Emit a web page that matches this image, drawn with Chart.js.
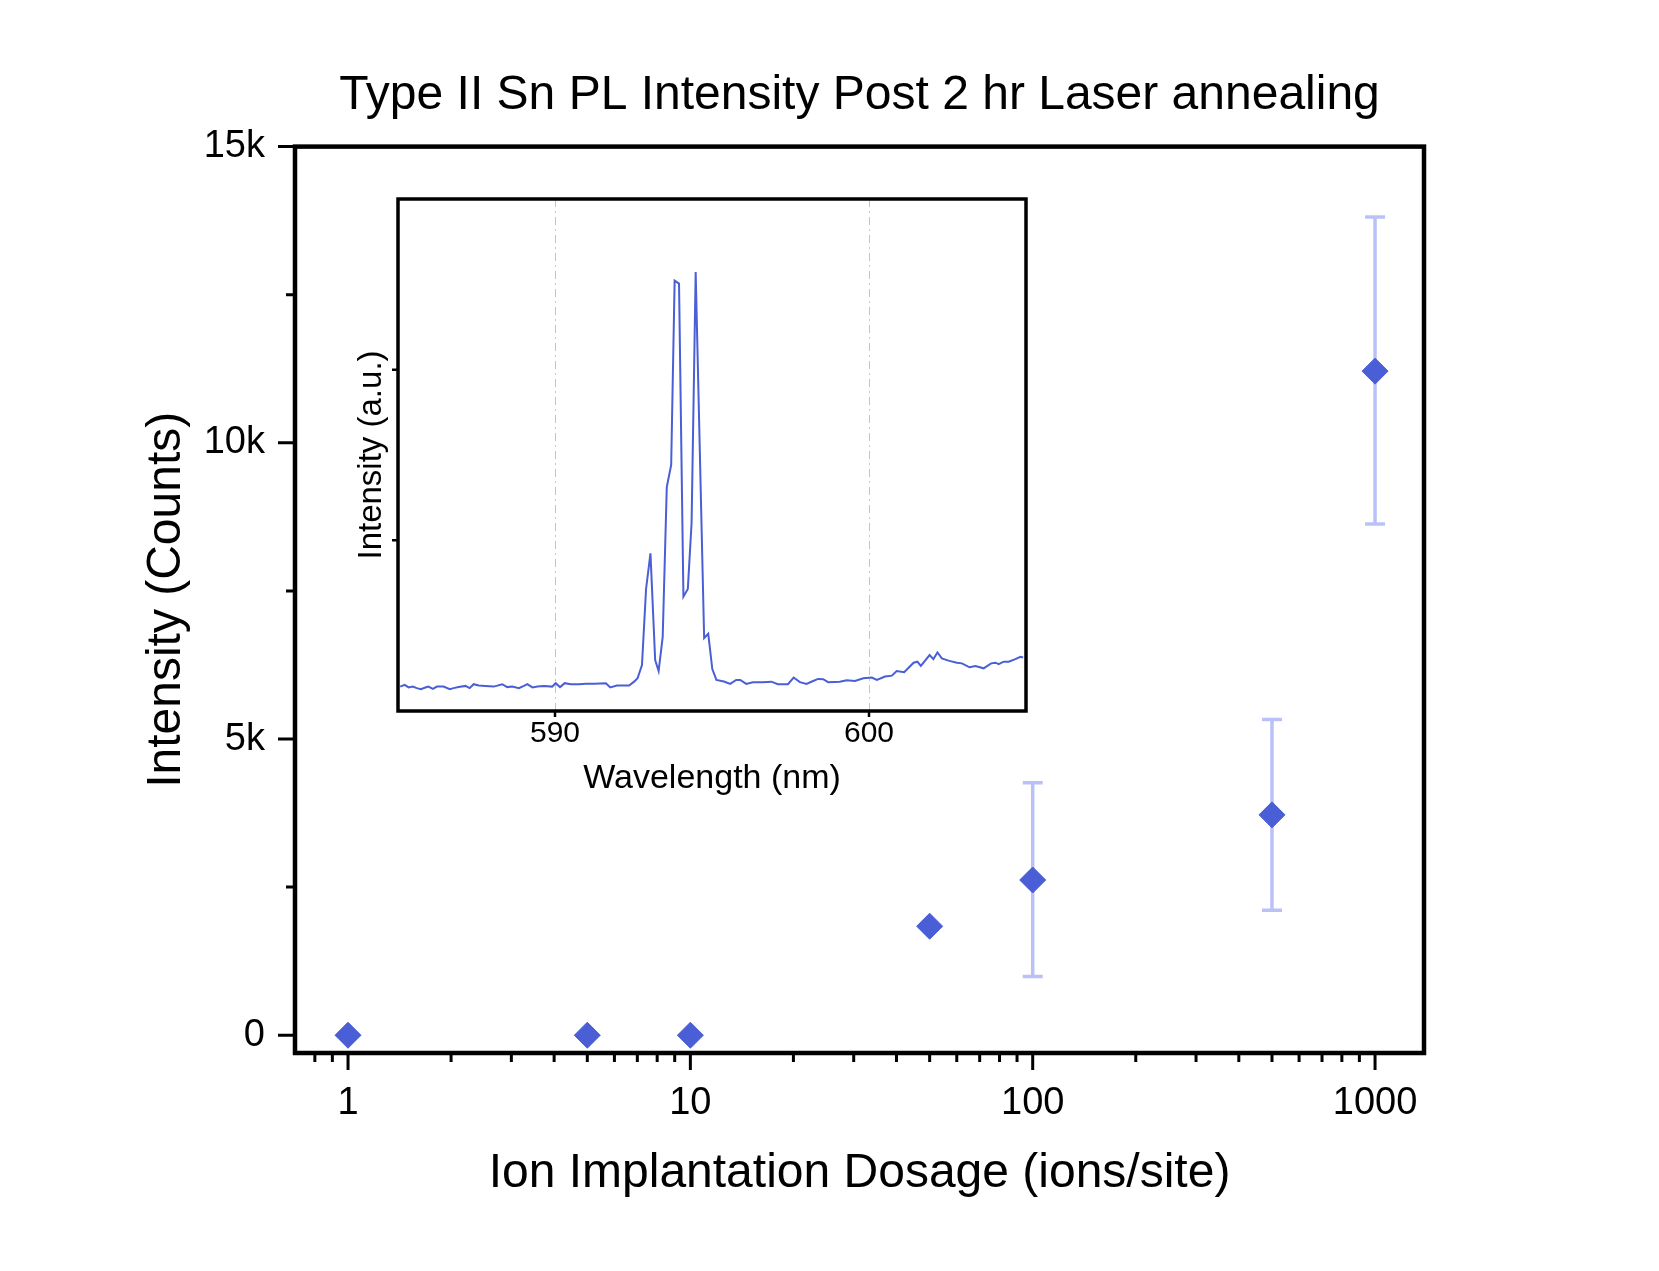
<!DOCTYPE html>
<html>
<head>
  <title>Type II Sn PL Intensity Post 2 hr Laser annealing</title>
  <script src="https://cdn.jsdelivr.net/npm/chart.js"></script>
  <style>
    body { margin: 0; background: #fff; }
    #wrap { position: relative; width: 1659px; height: 1271px; }
    #inset { position: absolute; left: 300px; top: 180px; }
  </style>
</head>
<body>
<div id="wrap">
  <canvas id="mainChart" width="1659" height="1271"></canvas>
  <canvas id="inset" width="740" height="640"></canvas>
</div>
<script>
// main plot: dose vs PL counts
const doses = [1, 5, 10, 50, 100, 500, 1000];
const counts = [0, 0, 0, 1840, 2620, 3720, 11210];
const errLow = [null, null, null, 1840, 990, 2110, 8630];
const errHigh = [null, null, null, 1840, 4260, 5330, 13810];

const xMajor = [1, 10, 100, 1000];
const xMinor = [0.8, 0.9, 2, 3, 4, 5, 6, 7, 8, 9, 20, 30, 40, 50, 60, 70, 80, 90, 200, 300, 400, 500, 600, 700, 800, 900];
const yMajor = [0, 5000, 10000, 15000];
const yMinor = [2500, 7500, 12500];

// inset spectrum
const wavelength = [585.07, 585.21, 585.34, 585.47, 585.60, 585.73, 585.87, 585.97, 586.11, 586.24, 586.45, 586.65, 586.77, 586.93,
  587.15, 587.28, 587.41, 587.57, 587.78, 588.05, 588.32, 588.48, 588.64, 588.85, 589.01, 589.12, 589.28, 589.44, 589.65, 589.91,
  590.02, 590.16, 590.31, 590.50, 590.77, 590.98, 591.25, 591.62, 591.76, 591.97, 592.20, 592.36, 592.52,
  592.63, 592.77, 592.90, 593.04, 593.19, 593.30, 593.43, 593.56, 593.70, 593.81, 593.95, 594.09, 594.23, 594.35, 594.48,
  594.75, 594.88, 595.01, 595.14, 595.38, 595.58, 595.77, 595.90, 596.09, 596.30, 596.62, 596.89, 597.10, 597.42, 597.60,
  597.80, 598.01, 598.22, 598.38, 598.54, 598.70, 599.07, 599.29, 599.55, 599.82, 600.09, 600.25, 600.51, 600.73, 600.88,
  601.12, 601.42, 601.54, 601.65, 601.93, 602.05, 602.18, 602.32, 602.53, 602.80, 602.96, 603.20, 603.39, 603.65, 603.89,
  604.03, 604.13, 604.29, 604.45, 604.66, 604.82, 604.91];
const plSignal = [143, 153, 138, 143, 134, 128, 138, 143, 130, 143, 143, 128, 134, 140,
  147, 134, 157, 149, 147, 143, 157, 140, 143, 134, 147, 157, 138, 143, 147, 143,
  163, 140, 163, 157, 157, 159, 159, 163, 138, 149, 149, 149, 172,
  192, 269, 715, 924, 298, 234, 434, 1312, 1442, 2522, 2504, 670, 715, 1103, 2572,
  428, 453, 246, 182, 173, 159, 182, 182, 159, 169, 169, 172, 157, 157, 196,
  169, 159, 176, 188, 186, 169, 172, 180, 176, 192, 196, 182, 202, 207, 234,
  227, 283, 289, 264, 328, 304, 343, 308, 295, 283, 279, 256, 264, 250, 279,
  283, 275, 289, 289, 304, 318, 314];
const insetXTicks = [590, 600];
const insetYTicks = [1000, 2000];

Chart.defaults.font.family = "'Liberation Sans', Arial, sans-serif";
Chart.defaults.color = '#000';

const markerColor = '#4a5ed6';

const mainDecor = {
  id: 'mainDecor',
  beforeDatasetsDraw(chart) {
    const {ctx, scales: {x, y}} = chart;
    ctx.save();
    ctx.strokeStyle = 'rgba(80, 100, 235, 0.4)';
    ctx.lineWidth = 3.5;
    for (let i = 0; i < doses.length; i++) {
      if (errLow[i] === null) continue;
      const px = x.getPixelForValue(doses[i]);
      const lo = y.getPixelForValue(errLow[i]);
      const hi = y.getPixelForValue(errHigh[i]);
      ctx.beginPath();
      ctx.moveTo(px, lo); ctx.lineTo(px, hi);
      ctx.moveTo(px - 10, lo); ctx.lineTo(px + 10, lo);
      ctx.moveTo(px - 10, hi); ctx.lineTo(px + 10, hi);
      ctx.stroke();
    }
    ctx.restore();
  },
  afterDraw(chart) {
    const {ctx, chartArea: a, scales: {x, y}} = chart;
    ctx.save();
    ctx.strokeStyle = '#000';
    ctx.lineWidth = 4.5;
    ctx.strokeRect(a.left, a.top, a.right - a.left, a.bottom - a.top);
    ctx.lineWidth = 3;
    ctx.beginPath();
    xMajor.forEach(v => { const p = x.getPixelForValue(v); ctx.moveTo(p, a.bottom); ctx.lineTo(p, a.bottom + 17); });
    xMinor.forEach(v => { const p = x.getPixelForValue(v); ctx.moveTo(p, a.bottom); ctx.lineTo(p, a.bottom + 9); });
    yMajor.forEach(v => { const p = y.getPixelForValue(v); ctx.moveTo(a.left, p); ctx.lineTo(a.left - 17, p); });
    yMinor.forEach(v => { const p = y.getPixelForValue(v); ctx.moveTo(a.left, p); ctx.lineTo(a.left - 9, p); });
    ctx.stroke();
    ctx.restore();
  }
};

new Chart(document.getElementById('mainChart'), {
  type: 'scatter',
  data: {
    datasets: [{
      data: doses.map((d, i) => ({x: d, y: counts[i]})),
      pointStyle: 'rectRot',
      pointRadius: 13,
      backgroundColor: markerColor,
      borderColor: markerColor,
      borderWidth: 1
    }]
  },
  options: {
    responsive: false,
    animation: false,
    layout: {padding: {left: 130, right: 235, top: 0, bottom: 68}},
    plugins: {
      legend: {display: false},
      tooltip: {enabled: false},
      title: {
        display: true,
        fullSize: false,
        text: 'Type II Sn PL Intensity Post 2 hr Laser annealing',
        font: {size: 48, weight: 'normal'},
        color: '#000',
        padding: {top: 67, bottom: 22}
      }
    },
    scales: {
      x: {
        type: 'logarithmic',
        min: 0.7,
        max: 1390,
        grid: {display: false, drawTicks: false},
        border: {display: false},
        afterBuildTicks: s => { s.ticks = xMajor.map(v => ({value: v})); },
        afterFit: s => { s.height = 150; },
        ticks: {font: {size: 38}, color: '#000', padding: 28, maxRotation: 0, callback: v => String(v)},
        title: {display: true, text: 'Ion Implantation Dosage (ions/site)', font: {size: 48}, color: '#000', padding: 0}
      },
      y: {
        min: -300,
        max: 15000,
        grid: {display: false, drawTicks: false},
        border: {display: false},
        afterBuildTicks: s => { s.ticks = yMajor.map(v => ({value: v})); },
        afterFit: s => { s.width = 165; },
        ticks: {font: {size: 38}, color: '#000', padding: 30, callback: v => v === 0 ? '0' : (v / 1000) + 'k'},
        title: {display: true, text: 'Intensity (Counts)', font: {size: 48}, color: '#000', padding: {top: 8, bottom: 0}}
      }
    }
  },
  plugins: [mainDecor]
});

const insetDecor = {
  id: 'insetDecor',
  beforeDatasetsDraw(chart) {
    const {ctx, chartArea: a, scales: {x}} = chart;
    ctx.save();
    ctx.strokeStyle = '#c4c4c4';
    ctx.lineWidth = 1;
    ctx.setLineDash([8, 4, 2, 4]);
    ctx.beginPath();
    insetXTicks.forEach(v => { const p = Math.round(x.getPixelForValue(v)) + 0.5; ctx.moveTo(p, a.top); ctx.lineTo(p, a.bottom); });
    ctx.stroke();
    ctx.restore();
  },
  afterDraw(chart) {
    const {ctx, chartArea: a, scales: {x, y}} = chart;
    ctx.save();
    ctx.strokeStyle = '#000';
    ctx.lineWidth = 3.5;
    ctx.strokeRect(a.left, a.top, a.right - a.left, a.bottom - a.top);
    ctx.lineWidth = 2.5;
    ctx.beginPath();
    insetXTicks.forEach(v => { const p = x.getPixelForValue(v); ctx.moveTo(p, a.bottom); ctx.lineTo(p, a.bottom + 6); });
    insetYTicks.forEach(v => { const p = y.getPixelForValue(v); ctx.moveTo(a.left, p); ctx.lineTo(a.left - 6, p); });
    ctx.stroke();
    ctx.restore();
  }
};

new Chart(document.getElementById('inset'), {
  type: 'line',
  data: {
    datasets: [{
      data: wavelength.map((w, i) => ({x: w, y: plSignal[i]})),
      borderColor: markerColor,
      borderWidth: 2,
      pointRadius: 0,
      tension: 0,
      fill: false
    }]
  },
  options: {
    responsive: false,
    animation: false,
    layout: {padding: {left: 40, right: 14, top: 19, bottom: 9}},
    plugins: {legend: {display: false}, tooltip: {enabled: false}},
    scales: {
      x: {
        type: 'linear',
        min: 585,
        max: 605,
        grid: {display: false, drawTicks: false},
        border: {display: false},
        afterBuildTicks: s => { s.ticks = insetXTicks.map(v => ({value: v})); },
        afterFit: s => { s.height = 100; },
        ticks: {font: {size: 30}, color: '#000', padding: 5, maxRotation: 0},
        title: {display: true, text: 'Wavelength (nm)', font: {size: 34}, color: '#000', padding: {top: 0, bottom: 12}}
      },
      y: {
        min: 0,
        max: 3000,
        grid: {display: false, drawTicks: false},
        border: {display: false},
        afterFit: s => { s.width = 58; },
        ticks: {display: false},
        title: {display: true, text: 'Intensity (a.u.)', font: {size: 33}, color: '#000', padding: {top: 12, bottom: 0}}
      }
    }
  },
  plugins: [insetDecor]
});
</script>
</body>
</html>
